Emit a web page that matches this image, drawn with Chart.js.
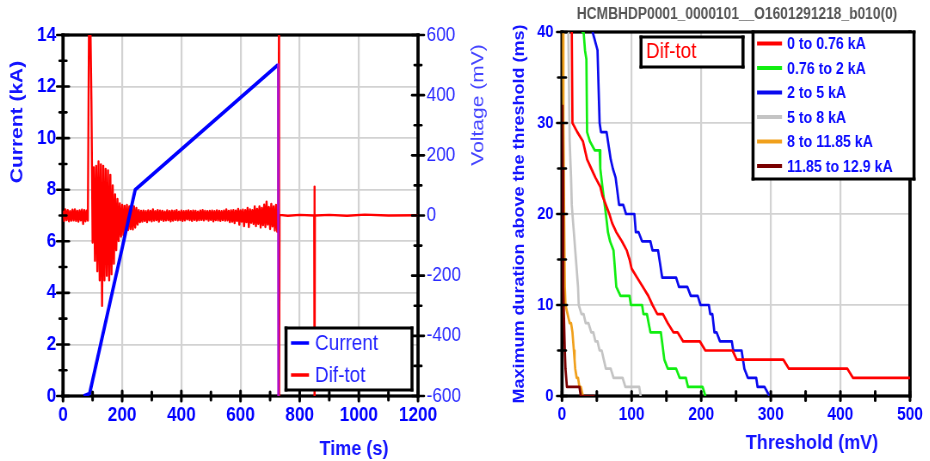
<!DOCTYPE html>
<html>
<head>
<meta charset="utf-8">
<script src="https://cdn.jsdelivr.net/npm/chart.js@4.4.1/dist/chart.umd.min.js"></script>
<style>
  body { margin: 0; background: #fff; width: 930px; height: 461px; overflow: hidden; position: relative; }
  canvas { position: absolute; top: 0; transform-origin: 0 0; transform: scaleX(0.86); }
  #left { left: 0; }
  #right { left: 480px; }
</style>
</head>
<body>
<canvas id="left" width="576" height="461"></canvas>
<canvas id="right" width="523" height="461"></canvas>
<script>
// the original picture is squeezed horizontally, so both canvases are drawn wide and scaled by SQ
const SQ = 0.86;
const FONT = "'Liberation Sans', Arial, Helvetica, sans-serif";

// ---------- left chart: current and Dif-tot voltage vs time ----------
const curTime = [70, 90, 244, 727, 728];
const curKA = [0, 0.1, 8, 12.85, 0];

const difStep = 4; // s between samples of the Dif-tot record
const difVolt = [
  16, -18, 20, -15, 18, -19, 14, -17, 19, -16, 20, -18, 15, -20, 17, -16, 19, -28, 18, -19, 16, -17,
  680, 680, 380, -90,
  160, -150, 165, -185, 180, -215, 170, -300, 165, -215, 155, -200, 150, -215, 135, -195, 100, -160, 70, -115, 55, -85, 40, -70, 35,
  -65, 32, -55, 35, -48, 30, -45, 28, -46, 30, -40, 25,
  -30, 18, -22, 15, -20, 16, -18, 14, -22, 17, -16, 15, -19, 20, -17, 14, -15, 18, -20, 16,
  -14, 15, -18, 13, -16, 17, -15, 14, -19, 16, -17, 15, -14, 18, -16, 13, -15, 16, -18, 14,
  -16, 15, -13, 17, -15, 14, -18, 16, -14, 15, -17, 13, -15, 16, -14, 18, -16, 15, -13, 14,
  -17, 15, -14, 16, -19, 14, -15, 17, -16, 15, -18, 14, -15, 16, -17, 20, -16, 15, -22, 17,
  -20, 18, -25, 16, -18, 22, -30, 17, -20, 19, -35, 18, -22, 25, -38, 20, -24, 18, -28, 30,
  -35, 22, -28, 30, -40, 25, -32, 36, -38, 46, -30, 28, -45, 38, -36, 30, -50, 35, -54, 25
];
const difTailTime = [730, 730.5, 732, 760, 800, 849, 850, 850.5, 851.5, 900, 960, 1020, 1100, 1200];
const difTailVolt = [680, -680, 2, -1, 2, 0, 96, -680, 0, 2, -1, 3, 0, 1];

// ---------- right chart: max duration above threshold, per current band ----------
const bands = ['0 to 0.76 kA', '0.76 to 2 kA', '2 to 5 kA', '5 to 8 kA', '8 to 11.85 kA', '11.85 to 12.9 kA'];
const bandColors = ['#ff0000', '#11ee11', '#0a0aee', '#c4c4c4', '#f0a01c', '#7a0000'];

const thr1 = [14, 15, 22, 30, 36, 42, 48, 55, 58, 63, 68, 72, 78, 86, 93, 97, 100, 108, 116, 124, 130, 137, 145, 152, 160, 166, 174, 198, 206, 245, 251, 318, 326, 410, 418, 500];
const dur1 = [40, 30, 29, 28, 26, 25, 24, 23, 22, 21, 20, 19, 18, 17, 16, 15, 14, 13, 12, 11, 10, 9, 9, 8, 7, 7, 6, 6, 5, 5, 4, 4, 3, 3, 2, 2];
const thr2 = [28, 31, 33, 35, 36, 40, 47, 54, 55, 58, 63, 66, 69, 74, 78, 84, 97, 99, 115, 117, 122, 127, 142, 147, 152, 164, 169, 178, 181, 202, 206];
const dur2 = [40, 40, 38, 37, 29, 28, 27, 27, 25, 23, 20, 18, 17, 16, 12, 11, 11, 10, 10, 9, 9, 7, 7, 4, 3, 3, 2, 2, 1, 1, 0];
const thr3 = [44, 51, 54, 56, 64, 70, 73, 77, 82, 88, 92, 104, 106, 110, 115, 127, 130, 138, 144, 164, 168, 180, 185, 195, 199, 211, 213, 216, 219, 222, 227, 244, 246, 258, 262, 267, 279, 281, 291, 298];
const dur3 = [40, 38, 30, 29, 29, 26, 25, 24, 21, 21, 20, 20, 18, 18, 17, 17, 16, 16, 13, 13, 12, 12, 11, 11, 10, 10, 9, 9, 7, 7, 6, 6, 5, 5, 3, 2, 2, 1, 1, 0];
const thr4 = [9, 10, 11, 13, 14, 16, 19, 21, 23, 24, 28, 31, 34, 38, 42, 45, 48, 51, 54, 57, 60, 63, 70, 74, 87, 91, 111, 113];
const dur4 = [40, 34, 28, 24, 21, 19, 16, 14, 12, 10, 9, 9, 8, 8, 7, 7, 6, 6, 5, 5, 4, 3, 3, 2, 2, 1, 1, 0];
const thr5 = [1, 2, 3, 4, 5, 8, 11, 13, 15, 16, 17, 18, 19, 21, 23, 25, 27, 30, 32];
const dur5 = [40, 30, 20, 12, 10, 9, 8, 8, 7, 6, 5, 4, 3, 2, 2, 1, 1, 0, 0];
const thr6 = [0.5, 1, 1.5, 2, 3, 4, 5, 7, 25, 27, 47];
const dur6 = [32, 25, 18, 12, 8, 5, 3, 1, 1, 0, 0];

function pairs(xs, ys) {
  return xs.map((x, i) => ({ x: x, y: ys[i] }));
}

const currentPts = pairs(curTime, curKA);
const difPts = difVolt.map((v, i) => ({ x: i * difStep, y: v })).concat(pairs(difTailTime, difTailVolt));

Chart.defaults.font.family = FONT;
Chart.defaults.color = '#0000ff';

const plainNumber = v => String(v);
// the final current drop overlaps the red spike in the original and reads purple
const isDrop = c => c.p1.parsed.y < c.p0.parsed.y - 5;

// frame under the data, crossing ticks over it, then boxes / legends / titles
function makeDecor(cfg) {
  const cx = v => (v - cfg.offset) / SQ;
  function boxEdges(ctx, x0, y0, x1, y1, t) {
    const h = t / 2, w = t / 2 / SQ;
    ctx.fillRect(x0 - w, y0 - h, x1 - x0 + 2 * w, 2 * h);
    ctx.fillRect(x0 - w, y1 - h, x1 - x0 + 2 * w, 2 * h);
    ctx.fillRect(x0 - w, y0 - h, 2 * w, y1 - y0 + 2 * h);
    ctx.fillRect(x1 - w, y0 - h, 2 * w, y1 - y0 + 2 * h);
  }
  return {
    id: 'decor',
    beforeDatasetsDraw(chart) {
      const ctx = chart.ctx, a = chart.chartArea;
      ctx.save();
      ctx.fillStyle = '#000';
      boxEdges(ctx, a.left, a.top, a.right, a.bottom, 3.2);
      ctx.restore();
    },
    afterDatasetsDraw(chart) {
      const ctx = chart.ctx, a = chart.chartArea;
      ctx.save();
      ctx.strokeStyle = '#000';
      ctx.lineCap = 'round';
      cfg.marks.forEach(m => {
        const sc = chart.scales[m.id];
        for (let k = 0; sc.min + k * m.minor <= sc.max + 1e-6; k++) {
          const p = sc.getPixelForValue(sc.min + k * m.minor);
          const len = k % m.every === 0 ? m.big : m.small;
          ctx.beginPath();
          if (m.side === 'bottom') {
            ctx.lineWidth = 2.6 / SQ;
            ctx.moveTo(p, a.bottom - len);
            ctx.lineTo(p, a.bottom + len);
          } else {
            const e = m.side === 'left' ? a.left : a.right;
            ctx.lineWidth = 2.6;
            ctx.moveTo(e - len / SQ, p);
            ctx.lineTo(e + len / SQ, p);
          }
          ctx.stroke();
        }
      });
      ctx.restore();
    },
    afterDraw(chart) {
      const ctx = chart.ctx;
      ctx.save();
      cfg.boxes.forEach(b => {
        ctx.fillStyle = '#fff';
        ctx.fillRect(cx(b.x0), b.y0, cx(b.x1) - cx(b.x0), b.y1 - b.y0);
        ctx.fillStyle = '#000';
        boxEdges(ctx, cx(b.x0), b.y0, cx(b.x1), b.y1, 3);
      });
      const lg = cfg.legend;
      chart.data.datasets.forEach((ds, i) => {
        const y = lg.rows[i];
        ctx.strokeStyle = ds.borderColor;
        ctx.lineWidth = lg.lineWidth;
        ctx.lineCap = 'butt';
        ctx.beginPath();
        ctx.moveTo(cx(lg.x0), y);
        ctx.lineTo(cx(lg.x1), y);
        ctx.stroke();
        ctx.fillStyle = lg.color;
        ctx.font = lg.font;
        ctx.textAlign = 'left';
        ctx.textBaseline = 'middle';
        ctx.fillText(ds.label, cx(lg.textX), y + 1);
      });
      cfg.texts.forEach(tx => {
        ctx.save();
        ctx.translate(cx(tx.x), tx.y);
        if (tx.rot) ctx.rotate(-Math.PI / 2);
        ctx.font = tx.font;
        ctx.fillStyle = tx.color;
        ctx.textAlign = tx.align || 'center';
        ctx.textBaseline = 'middle';
        ctx.fillText(tx.t, 0, 0);
        ctx.restore();
      });
      ctx.restore();
    }
  };
}

const leftDecor = makeDecor({
  offset: 0,
  marks: [
    { id: 'y', side: 'left', minor: 1, every: 2, big: 6, small: 3.5 },
    { id: 'y2', side: 'right', minor: 100, every: 2, big: 6, small: 3.5 },
    { id: 'x', side: 'bottom', minor: 100, every: 2, big: 5, small: 4 }
  ],
  boxes: [{ x0: 286, y0: 328, x1: 412, y1: 390 }],
  legend: { x0: 291, x1: 309, textX: 315, rows: [343, 375], font: '22px ' + FONT, color: '#2424ff', lineWidth: 3.5 },
  texts: [
    { t: 'Current (kA)', x: 17.5, y: 122, rot: true, font: 'bold 21px ' + FONT, color: '#1414ff' },
    { t: 'Voltage (mV)', x: 478, y: 105, rot: true, font: '21px ' + FONT, color: '#4646ff' },
    { t: 'Time (s)', x: 354, y: 449, font: 'bold 21px ' + FONT, color: '#1414ff' }
  ]
});

new Chart(document.getElementById('left'), {
  type: 'line',
  data: {
    datasets: [
      {
        label: 'Current', data: currentPts, yAxisID: 'y', borderColor: '#0000ff', borderWidth: 3.8,
        pointRadius: 0, tension: 0, borderJoinStyle: 'round',
        segment: {
          borderColor: c => (isDrop(c) ? '#b010c8' : undefined),
          borderWidth: c => (isDrop(c) ? 2.6 : undefined)
        }
      },
      { label: 'Dif-tot', data: difPts, yAxisID: 'y2', borderColor: '#ff0000', borderWidth: 2.4, pointRadius: 0, tension: 0, borderJoinStyle: 'round' }
    ]
  },
  options: {
    responsive: false,
    animation: false,
    devicePixelRatio: 1,
    events: [],
    layout: { padding: { top: 35, left: 0, right: 0, bottom: 0 } },
    plugins: { legend: { display: false }, tooltip: { enabled: false } },
    scales: {
      x: {
        type: 'linear', min: 0, max: 1200,
        afterFit: s => { s.height = 65; },
        ticks: { stepSize: 200, autoSkip: false, maxRotation: 0, padding: 7, callback: plainNumber, color: '#0000ff', font: { size: 20, weight: 'bold' } },
        grid: { color: '#d2d2d2', lineWidth: 2.2, drawTicks: false },
        border: { display: false }
      },
      y: {
        position: 'left', min: 0, max: 14,
        afterFit: s => { s.width = 63 / SQ; },
        ticks: { stepSize: 2, padding: 8, color: '#0000ff', font: { size: 20, weight: 'bold' } },
        grid: { color: '#d2d2d2', lineWidth: 1.8, drawTicks: false },
        border: { display: false }
      },
      y2: {
        position: 'right', min: -600, max: 600,
        afterFit: s => { s.width = 576 - 418 / SQ; },
        ticks: { stepSize: 200, padding: 10, callback: plainNumber, color: '#2a2aff', font: { size: 20, weight: 'normal' } },
        grid: { display: false, drawTicks: false },
        border: { display: false }
      }
    }
  },
  plugins: [leftDecor]
});

const rightDecor = makeDecor({
  offset: 480,
  marks: [
    { id: 'y', side: 'left', minor: 5, every: 2, big: 5, small: 4 },
    { id: 'x', side: 'bottom', minor: 50, every: 2, big: 4.5, small: 4.5 }
  ],
  boxes: [{ x0: 641, y0: 37, x1: 743, y1: 67 }, { x0: 753, y0: 32, x1: 914, y1: 179 }],
  legend: { x0: 757, x1: 782, textX: 787, rows: [43.5, 68, 92.5, 117, 141.5, 166], font: 'bold 16.5px ' + FONT, color: '#0a0aff', lineWidth: 4 },
  texts: [
    { t: 'HCMBHDP0001_0000101__O1601291218_b010(0)', x: 737, y: 15, font: 'bold 16px ' + FONT, color: '#555555' },
    { t: 'Maximum duration above the threshold (ms)', x: 520, y: 214, rot: true, font: 'bold 18px ' + FONT, color: '#1414ff' },
    { t: 'Threshold (mV)', x: 812, y: 443, font: 'bold 21px ' + FONT, color: '#1414ff' },
    { t: 'Dif-tot', x: 646, y: 52, align: 'left', font: '22px ' + FONT, color: '#ff0000' }
  ]
});

const thrSets = [thr1, thr2, thr3, thr4, thr5, thr6];
const durSets = [dur1, dur2, dur3, dur4, dur5, dur6];
const drawOrder = [1, 2, 3, 4, 5, 0];

new Chart(document.getElementById('right'), {
  type: 'line',
  data: {
    datasets: bands.map((b, i) => ({
      label: b,
      data: pairs(thrSets[i], durSets[i]),
      borderColor: bandColors[i],
      borderWidth: 2.7,
      pointRadius: 0,
      tension: 0,
      borderJoinStyle: 'round',
      order: drawOrder[i]
    }))
  },
  options: {
    responsive: false,
    animation: false,
    devicePixelRatio: 1,
    events: [],
    layout: { padding: { top: 32, left: 0, right: 523 - 434 / SQ, bottom: 0 } },
    plugins: { legend: { display: false }, tooltip: { enabled: false } },
    scales: {
      x: {
        type: 'linear', min: 0, max: 500,
        afterFit: s => { s.height = 65; },
        ticks: { stepSize: 100, autoSkip: false, maxRotation: 0, padding: 8, callback: plainNumber, color: '#0000ff', font: { size: 18, weight: 'bold' } },
        grid: { color: '#d2d2d2', lineWidth: 2.2, drawTicks: false },
        border: { display: false }
      },
      y: {
        position: 'left', min: 0, max: 40,
        afterFit: s => { s.width = 82 / SQ; },
        ticks: { stepSize: 10, padding: 10, color: '#0000ff', font: { size: 17, weight: 'bold' } },
        grid: { color: '#d2d2d2', lineWidth: 1.8, drawTicks: false },
        border: { display: false }
      }
    }
  },
  plugins: [rightDecor]
});
</script>
</body>
</html>
